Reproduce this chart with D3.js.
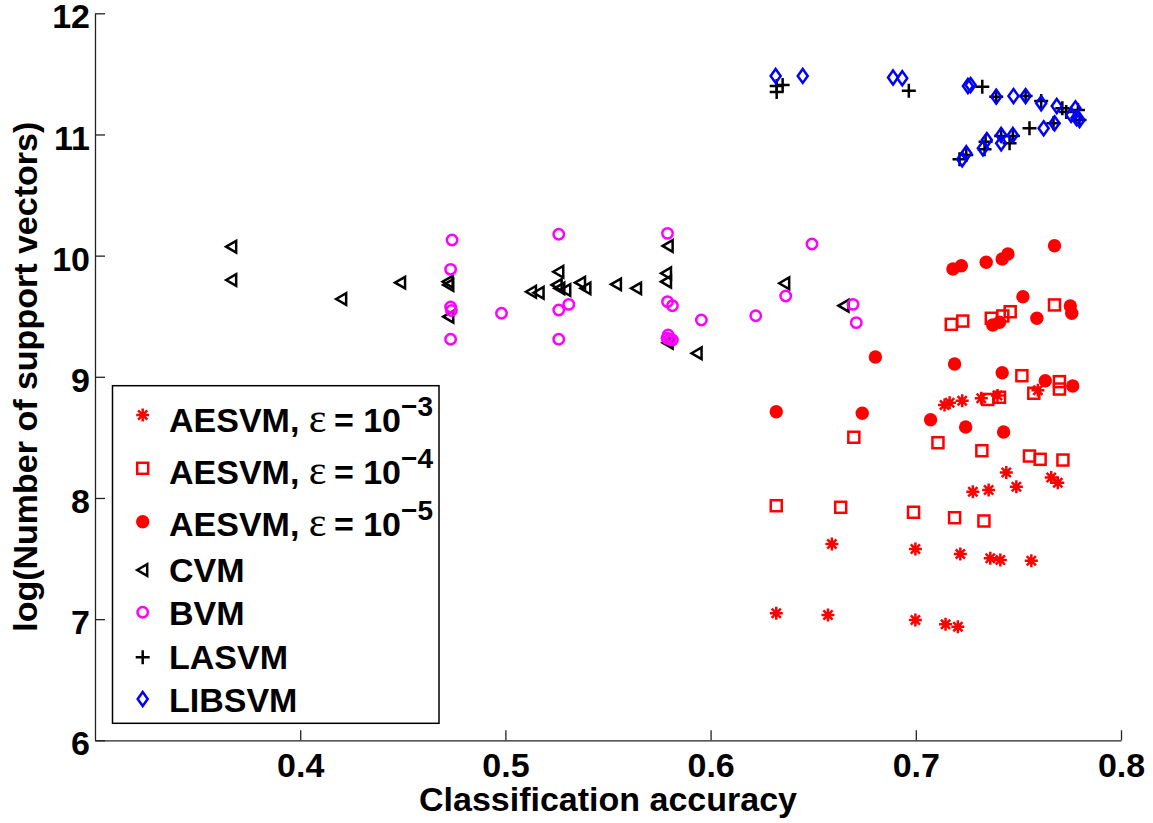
<!DOCTYPE html>
<html>
<head>
<meta charset="utf-8">
<script src="https://cdn.jsdelivr.net/npm/d3@7"></script>
<style>
  html, body { margin: 0; padding: 0; background: #fff; }
  svg { display: block; }
  text { font-family: "Liberation Sans", Arial, Helvetica, sans-serif; font-weight: bold; }
</style>
</head>
<body>
<svg id="chart" width="1153" height="823"></svg>
<script>
// ---------------- DATA ----------------
const xTicks = [0.4, 0.5, 0.6, 0.7, 0.8];
const yTicks = [6, 7, 8, 9, 10, 11, 12];
const xLabel = "Classification accuracy";
const yLabel = "log(Number of support vectors)";

const seriesNames = ["AESVM, ε = 10−3", "AESVM, ε = 10−4", "AESVM, ε = 10−5", "CVM", "BVM", "LASVM", "LIBSVM"];

// AESVM eps = 1e-3 (asterisks)
const aes3X = [0.714, 0.7165, 0.7226, 0.7319, 0.7398, 0.7595, 0.7441, 0.766, 0.7692, 0.749, 0.7278, 0.7355,
               0.6591, 0.6998, 0.7217, 0.7363, 0.7412, 0.7563, 0.632, 0.6572, 0.6998, 0.7145, 0.7205];
const aes3Y = [8.767, 8.786, 8.803, 8.823, 8.846, 8.889, 8.210, 8.169, 8.126, 8.093, 8.052, 8.066,
               7.620, 7.579, 7.538, 7.502, 7.488, 7.482, 7.048, 7.034, 6.993, 6.957, 6.938];

// AESVM eps = 1e-4 (open squares)
const aes4X = [0.7676, 0.7173, 0.7229, 0.7368, 0.7424, 0.746, 0.7517, 0.77, 0.77, 0.7575, 0.7351, 0.7408,
               0.6698, 0.7108, 0.7322, 0.7554, 0.7606, 0.7717, 0.632, 0.6634, 0.6989, 0.7189, 0.7332];
const aes4Y = [9.593, 9.433, 9.460, 9.483, 9.502, 9.537, 9.009, 8.960, 8.899, 8.864, 8.813, 8.831,
               8.501, 8.456, 8.390, 8.346, 8.319, 8.313, 7.936, 7.923, 7.882, 7.837, 7.810];

// AESVM eps = 1e-5 (filled circles)
const aes5X = [0.7676, 0.7181, 0.7222, 0.7343, 0.7421, 0.7449, 0.7522, 0.7753, 0.776, 0.759, 0.7375, 0.7408,
               0.6803, 0.7189, 0.7421, 0.7631, 0.7765, 0.632, 0.6739, 0.7072, 0.7243, 0.7428];
const aes5Y = [10.082, 9.890, 9.917, 9.945, 9.972, 10.014, 9.661, 9.584, 9.524, 9.483, 9.428, 9.450,
               9.163, 9.106, 9.034, 8.968, 8.924, 8.712, 8.699, 8.646, 8.586, 8.544];

// CVM (left triangles)
const cvmX = [0.3666, 0.3666, 0.4202, 0.4489, 0.4721, 0.4724, 0.4724, 0.5127, 0.5164, 0.526, 0.5252, 0.5265,
              0.5294, 0.5366, 0.5392, 0.5541, 0.5639, 0.5793, 0.5785, 0.5785, 0.5793, 0.5934, 0.6361, 0.665];
const cvmY = [10.074, 9.799, 9.642, 9.777, 9.785, 9.758, 9.496, 9.702, 9.694, 9.867, 9.758, 9.730,
              9.716, 9.777, 9.730, 9.763, 9.730, 10.080, 9.854, 9.785, 9.281, 9.194, 9.772, 9.587];

// BVM (open circles)
const bvmX = [0.474, 0.4733, 0.4733, 0.4737, 0.4733, 0.4981, 0.526, 0.526, 0.5309, 0.526, 0.579, 0.579,
              0.5814, 0.5793, 0.5788, 0.5801, 0.5814, 0.5955, 0.622, 0.6366, 0.6494, 0.6694, 0.671];
const bvmY = [10.129, 9.887, 9.576, 9.547, 9.310, 9.524, 10.176, 9.551, 9.598, 9.310, 10.184, 9.620,
              9.587, 9.345, 9.318, 9.310, 9.304, 9.469, 9.504, 9.667, 10.096, 9.598, 9.447];

// LASVM (plus)
const lasX = [0.6322, 0.6322, 0.6351, 0.6966, 0.7324, 0.7392, 0.7535, 0.7611, 0.7714, 0.7733, 0.779, 0.7798,
              0.7213, 0.7246, 0.734, 0.7335, 0.7416, 0.7457, 0.7473, 0.7554, 0.7671];
const lasY = [11.400, 11.350, 11.408, 11.361, 11.394, 11.312, 11.317, 11.276, 11.216, 11.185, 11.202, 11.119,
              10.795, 10.831, 10.940, 10.878, 10.987, 10.927, 10.987, 11.051, 11.092];

// LIBSVM (diamonds)
const libX = [0.6317, 0.6449, 0.6889, 0.6934, 0.7254, 0.7267, 0.7392, 0.7476, 0.7535, 0.7611, 0.7687, 0.7778,
              0.7757, 0.7798, 0.7783, 0.7226, 0.7246, 0.7327, 0.7346, 0.7416, 0.7416, 0.7473, 0.7623, 0.7676];
const libY = [11.483, 11.483, 11.470, 11.464, 11.400, 11.408, 11.312, 11.317, 11.317, 11.257, 11.235, 11.216,
              11.161, 11.119, 11.136, 10.795, 10.845, 10.886, 10.954, 10.996, 10.927, 10.996, 11.051, 11.092];

// ---------------- CHART ----------------
const svg = d3.select("#chart");
const W = 1153, H = 823;
svg.append("rect").attr("width", W).attr("height", H).attr("fill", "#fff");

const plotLeft = 95, plotRight = 1121, plotTop = 13.3, plotBottom = 740.3;
const x = d3.scaleLinear().domain([0.3, 0.8]).range([plotLeft, plotRight]);
const y = d3.scaleLinear().domain([6, 12]).range([plotBottom, plotTop]);

const FS = 34;
const axisColor = "#222";

// axes
const gx = svg.append("g").attr("transform", `translate(0,${plotBottom})`)
  .call(d3.axisBottom(x).tickValues(xTicks).tickFormat(d3.format(".1f")).tickSizeInner(-10).tickSizeOuter(0).tickPadding(13));
const gy = svg.append("g").attr("transform", `translate(${plotLeft},0)`)
  .call(d3.axisLeft(y).tickValues(yTicks).tickFormat(d3.format("d")).tickSizeInner(-10).tickSizeOuter(0).tickPadding(5));
[gx, gy].forEach(g => {
  g.select(".domain").attr("stroke", axisColor).attr("stroke-width", 1.3);
  g.selectAll(".tick line").attr("stroke", axisColor).attr("stroke-width", 1.3);
  g.selectAll(".tick text").attr("fill", "#000").style("font-size", FS + "px")
   .style("font-family", '"Liberation Sans", Arial, sans-serif').style("font-weight", "bold");
  g.attr("font-family", null).attr("font-size", null);
});
gy.selectAll(".tick text").attr("dy", "0.43em");

// axis labels
svg.append("text").attr("x", (plotLeft + plotRight) / 2).attr("y", 811).attr("text-anchor", "middle")
  .style("font-size", FS + "px").text(xLabel);
svg.append("text").attr("transform", `translate(37,${(plotTop + plotBottom) / 2}) rotate(-90)`).attr("text-anchor", "middle")
  .style("font-size", FS + "px").text(yLabel);

// marker drawing
const SW = 2.5;
function drawMarker(g, type) {
  switch (type) {
    case "asterisk": {
      const a = 6.5, d = 4.6;
      g.append("path").attr("d", `M${-a},0L${a},0M0,${-a}L0,${a}M${-d},${-d}L${d},${d}M${-d},${d}L${d},${-d}`)
        .attr("stroke", "#ff0000").attr("stroke-width", SW).attr("fill", "none");
      break;
    }
    case "square":
      g.append("rect").attr("x", -5.5).attr("y", -5.5).attr("width", 11).attr("height", 11)
        .attr("stroke", "#ff0000").attr("stroke-width", SW).attr("fill", "none");
      break;
    case "dot":
      g.append("circle").attr("r", 6.7).attr("fill", "#ff0000");
      break;
    case "triangle":
      g.append("path").attr("d", "M-5.5,0L4.5,-5.8L4.5,5.8Z")
        .attr("stroke", "#000").attr("stroke-width", SW).attr("fill", "none").attr("stroke-linejoin", "miter");
      break;
    case "circle":
      g.append("circle").attr("r", 5.2).attr("stroke", "#ff00ff").attr("stroke-width", SW).attr("fill", "none");
      break;
    case "plus":
      g.append("path").attr("d", "M-7,0L7,0M0,-7L0,7").attr("stroke", "#000").attr("stroke-width", SW).attr("fill", "none");
      break;
    case "diamond":
      g.append("path").attr("d", "M0,-7L5,0L0,7L-5,0Z").attr("stroke", "#0000ff").attr("stroke-width", SW).attr("fill", "none");
      break;
  }
}

const series = [
  { xs: aes3X, ys: aes3Y, m: "asterisk" },
  { xs: aes4X, ys: aes4Y, m: "square" },
  { xs: aes5X, ys: aes5Y, m: "dot" },
  { xs: cvmX, ys: cvmY, m: "triangle" },
  { xs: bvmX, ys: bvmY, m: "circle" },
  { xs: lasX, ys: lasY, m: "plus" },
  { xs: libX, ys: libY, m: "diamond" }
];

const plot = svg.append("g");
series.forEach(s => {
  const pts = s.xs.map((v, i) => [v, s.ys[i]]);
  plot.selectAll(null).data(pts).enter().append("g")
    .attr("transform", d => `translate(${x(d[0])},${y(d[1])})`)
    .each(function () { drawMarker(d3.select(this), s.m); });
});

// legend
const lg = svg.append("g");
lg.append("rect").attr("x", 112.5).attr("y", 385.7).attr("width", 326.5).attr("height", 337.6)
  .attr("fill", "#fff").attr("stroke", "#000").attr("stroke-width", 1.5);
const markerYs = [415, 468.3, 521.7, 570, 612.3, 657.3, 699];
const baseYs = [431.7, 484, 536, 582.3, 625, 669, 711.7];
series.forEach((s, i) => {
  const g = lg.append("g").attr("transform", `translate(142.7,${markerYs[i]})`);
  drawMarker(g, s.m);
  const t = lg.append("text").attr("x", 169).attr("y", baseYs[i]).style("font-size", FS + "px");
  const name = seriesNames[i];
  const m = name.match(/^(.*), ε = 10(−\d)$/);
  if (m) {
    t.append("tspan").text(m[1] + ", ");
    t.append("tspan").style("font-family", '"Liberation Serif", "Times New Roman", serif').style("font-weight", "normal")
      .style("font-size", "42px").text("ε");
    t.append("tspan").attr("dx", -2).text(" = 10");
    t.append("tspan").attr("dy", -16).style("font-size", "28px").text(m[2]);
  } else {
    t.text(name);
  }
});
</script>
</body>
</html>
